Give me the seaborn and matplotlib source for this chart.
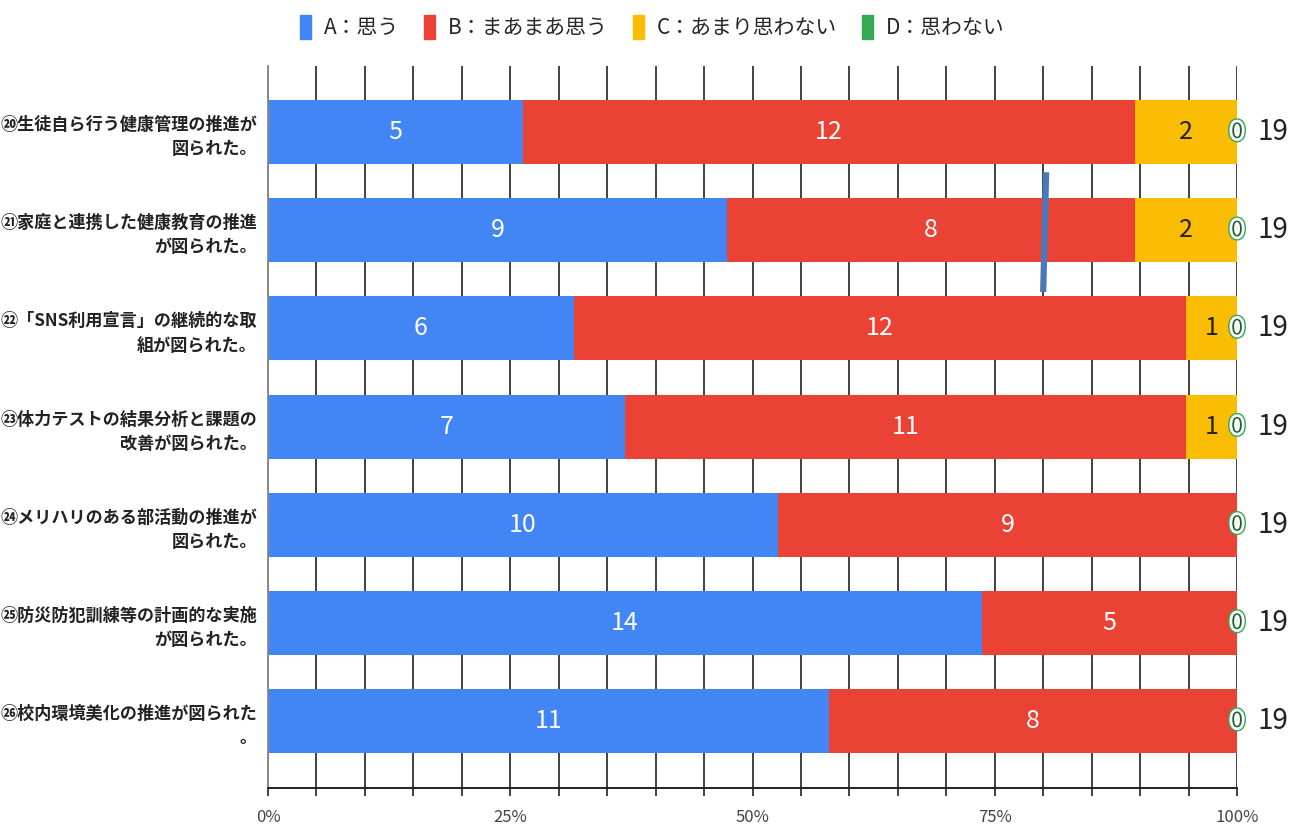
import matplotlib
matplotlib.use("Agg")
import matplotlib.pyplot as plt
import matplotlib.patheffects as pe
from matplotlib.patches import Patch
import seaborn as sns
import pandas as pd
import numpy as np

categories = [
    "⑳生徒自ら行う健康管理の推進が\n図られた。",
    "㉑家庭と連携した健康教育の推進\nが図られた。",
    "㉒「SNS利用宣言」の継続的な取\n組が図られた。",
    "㉓体力テストの結果分析と課題の\n改善が図られた。",
    "㉔メリハリのある部活動の推進が\n図られた。",
    "㉕防災防犯訓練等の計画的な実施\nが図られた。",
    "㉖校内環境美化の推進が図られた\n。",
]
series_names = ["A：思う", "B：まあまあ思う", "C：あまり思わない", "D：思わない"]
A = [5, 9, 6, 7, 10, 14, 11]
B = [12, 8, 12, 11, 9, 5, 8]
C = [2, 2, 1, 1, 0, 0, 0]
D = [0, 0, 0, 0, 0, 0, 0]
tick_labels = ["0%", "25%", "50%", "75%", "100%"]
colors = ["#4285f4", "#ea4335", "#fbbc04", "#34a853"]

sns.set_theme(style="white")
plt.rcParams['font.family'] = ['Noto Sans CJK JP', 'DejaVu Sans']

vals = np.array([A, B, C, D], dtype=float)
totals = vals.sum(axis=0)
pct = vals / totals * 100
cum = np.cumsum(pct, axis=0)

fig = plt.figure(figsize=(13.04, 8.3), dpi=100)
ax = fig.add_axes([268/1304, 1-788/830, (1237-268)/1304, (788-66)/830])

bar_w = 0.652
for i in range(3, -1, -1):
    df = pd.DataFrame({"cat": categories, "val": cum[i]})
    sns.barplot(data=df, x="val", y="cat", orient="h", color=colors[i],
                width=bar_w, ax=ax, saturation=1, linewidth=0, zorder=2)

ax.set_xlim(0, 100)
ax.set_ylim(6.682, -0.672)
ax.set_xlabel("")
ax.set_ylabel("")
ax.set_xticks(np.arange(0, 101, 5))
ax.set_xticklabels([tick_labels[k // 25] if k % 25 == 0 else "" for k in range(0, 101, 5)],
                   fontsize=12, color="#444444")
ax.tick_params(axis="x", bottom=True, direction="out", length=6, width=1.2,
               color="#222222", pad=9)
ax.tick_params(axis="y", left=False, length=0, pad=8)
for lab in ax.get_yticklabels():
    lab.set_fontsize(12.3)
    lab.set_fontweight("bold")
    lab.set_color("#222222")
    lab.set_linespacing(1.45)
    lab.set_horizontalalignment("right")

ax.grid(axis="x", color="#333333", linewidth=1.3, zorder=0)
ax.set_axisbelow(True)
for s in ["top", "right"]:
    ax.spines[s].set_visible(False)
ax.spines["left"].set_visible(True)
ax.spines["left"].set_color("#888888")
ax.spines["left"].set_linewidth(1.3)
ax.spines["bottom"].set_visible(True)
ax.spines["bottom"].set_color("#222222")
ax.spines["bottom"].set_linewidth(1.4)

# segment labels
for j in range(len(categories)):
    for i in range(3):
        if vals[i, j] > 0:
            xc = cum[i, j] - pct[i, j] / 2
            col = "white" if i < 2 else "#222222"
            ax.text(xc, j, f"{int(vals[i, j])}", ha="center", va="center",
                    fontsize=18, color=col, zorder=5)
    ax.text(cum[3, j], j, f"{int(vals[3, j])}", ha="center", va="center",
            fontsize=15, color="#1e5e2e", zorder=6, clip_on=False,
            path_effects=[pe.Stroke(linewidth=6, foreground="#34a853"),
                          pe.Stroke(linewidth=4, foreground="white"), pe.Normal()])
    ax.text(103.7, j, f"{int(totals[j])}", ha="center", va="center",
            fontsize=20, color="#222222", clip_on=False)

# stray annotation stroke present in the reference
ax.plot([80.3, 80.0], [0.41, 1.63], color="#4a78b8", linewidth=4.5,
        solid_capstyle="butt", zorder=7)

handles = [Patch(facecolor=c, edgecolor=c) for c in colors]
fig.legend(handles, series_names, loc="upper center", bbox_to_anchor=(0.5, 1.005),
           ncol=4, frameon=False, fontsize=15, handlelength=0.55, handleheight=1.4,
           columnspacing=1.2, handletextpad=0.6)

fig.savefig("out.png", dpi=100)
